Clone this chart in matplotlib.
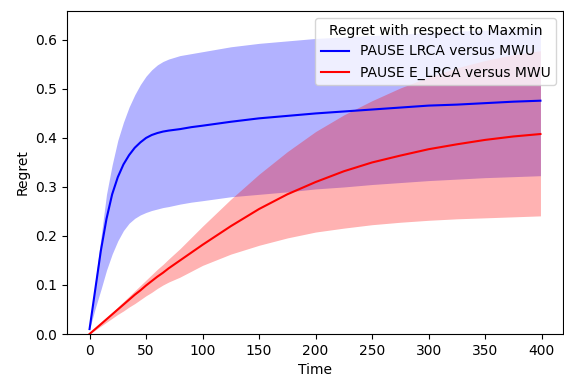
import matplotlib
matplotlib.use('Agg')
import matplotlib.pyplot as plt

# time steps
t = [0, 5, 10, 15, 20, 25, 30, 35, 40, 45, 50, 55, 60, 65, 70, 80, 90, 100,
     125, 150, 175, 200, 225, 250, 275, 300, 325, 350, 375, 399]

# PAUSE LRCA versus MWU
lrca_mean = [0.01, 0.09, 0.17, 0.235, 0.285, 0.32, 0.346, 0.365, 0.38, 0.391, 0.40, 0.406,
             0.41, 0.413, 0.415, 0.418, 0.422, 0.425, 0.433, 0.44, 0.445, 0.45, 0.454,
             0.458, 0.462, 0.466, 0.468, 0.471, 0.474, 0.476]
lrca_upper = [0.01, 0.105, 0.195, 0.285, 0.345, 0.395, 0.432, 0.463, 0.488, 0.509, 0.526,
              0.539, 0.549, 0.556, 0.561, 0.568, 0.572, 0.576, 0.586, 0.593, 0.598, 0.603,
              0.606, 0.609, 0.612, 0.615, 0.618, 0.62, 0.622, 0.625]
lrca_lower = [0.01, 0.052, 0.09, 0.13, 0.163, 0.19, 0.211, 0.226, 0.236, 0.243, 0.248,
              0.252, 0.255, 0.258, 0.26, 0.265, 0.269, 0.272, 0.28, 0.285, 0.29, 0.296,
              0.30, 0.305, 0.309, 0.313, 0.316, 0.319, 0.321, 0.323]

# PAUSE E_LRCA versus MWU
elrca_mean = [0.0, 0.01, 0.02, 0.03, 0.04, 0.05, 0.06, 0.07, 0.08, 0.089, 0.099, 0.108,
              0.117, 0.125, 0.134, 0.15, 0.166, 0.182, 0.22, 0.255, 0.285, 0.31, 0.332,
              0.35, 0.364, 0.377, 0.387, 0.396, 0.403, 0.408]
elrca_upper = [0.0, 0.011, 0.022, 0.033, 0.044, 0.055, 0.066, 0.077, 0.088, 0.099, 0.11,
               0.121, 0.132, 0.142, 0.153, 0.174, 0.197, 0.22, 0.275, 0.326, 0.372, 0.413,
               0.447, 0.476, 0.502, 0.524, 0.543, 0.558, 0.57, 0.578]
elrca_lower = [0.0, 0.008, 0.016, 0.024, 0.032, 0.04, 0.047, 0.055, 0.062, 0.07, 0.078,
               0.085, 0.093, 0.1, 0.106, 0.116, 0.128, 0.14, 0.163, 0.181, 0.196, 0.208,
               0.216, 0.223, 0.228, 0.232, 0.235, 0.237, 0.239, 0.241]

fig = plt.figure(figsize=(5.64, 3.78), dpi=100)
ax = fig.add_axes([67/564, 44/378, 496/564, 323/378])

ax.fill_between(t, lrca_lower, lrca_upper, color='b', alpha=0.3, linewidth=0)
ax.plot(t, lrca_mean, 'b', label='PAUSE LRCA versus MWU')
ax.fill_between(t, elrca_lower, elrca_upper, color='r', alpha=0.3, linewidth=0)
ax.plot(t, elrca_mean, 'r', label='PAUSE E_LRCA versus MWU')

ax.set_ylim(0, 0.659)
ax.set_xlabel('Time')
ax.set_ylabel('Regret')
ax.legend(title='Regret with respect to Maxmin', loc='upper right')

fig.savefig('out.png', dpi=100)
